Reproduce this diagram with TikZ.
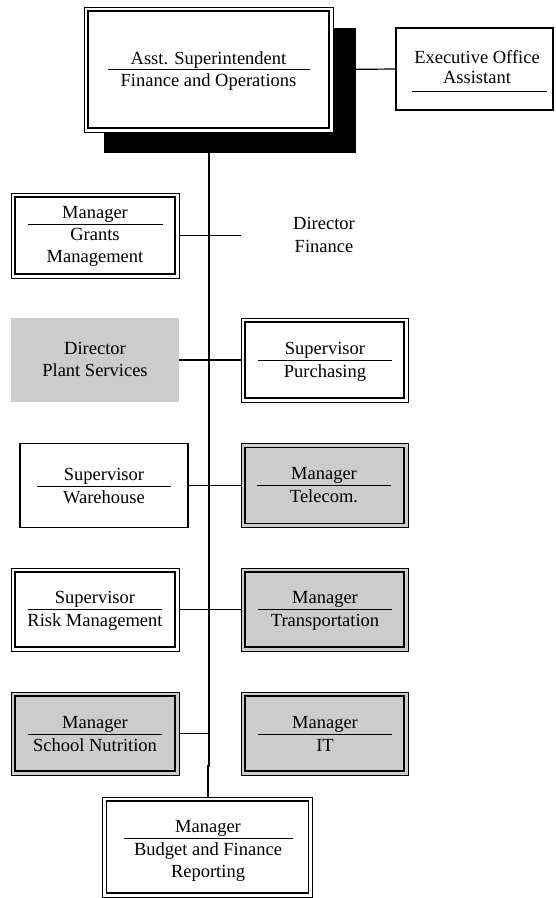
\documentclass[tikz,border=0pt]{standalone}
\usepackage{fontspec}
\setmainfont{Liberation Serif}
\definecolor{boxgray}{RGB}{204,204,204}
\begin{document}
\begin{tikzpicture}[x=1pt,y=-1pt,
  box/.style={rectangle, inner sep=0pt, outer sep=0pt},
  plainbox/.style={box, draw, line width=1.1pt, fill=white},
  dblbox/.style={box, draw, line width=0.8pt, fill=white},
  graydbl/.style={dblbox, fill=boxgray},
  graybox/.style={box, fill=boxgray},
  ghostbox/.style={box},
  innerframe/.style={line width=1.5pt},
  txt/.style={anchor=base, inner sep=0pt, font=\fontsize{18.5}{22}\selectfont},
  titlerule/.style={line width=1pt},
  spine/.style={line width=2pt},
  link/.style={line width=1.2pt}
]
\useasboundingbox (0,0) rectangle (555,898);

% drop shadow behind the head box
\fill[black] (104,28) rectangle (356,153);

% boxes
\node[dblbox, minimum width=249, minimum height=125] (chief) at (208.5,69.5) {};
\node[plainbox, minimum width=157, minimum height=82] (exec) at (474.5,69) {};
\node[dblbox, minimum width=168, minimum height=85] (grants) at (95,235.5) {};
\node[ghostbox, minimum width=167, minimum height=85] (dirfin) at (324.5,235.5) {};
\node[graybox, minimum width=168, minimum height=84] (plant) at (95,360) {};
\node[dblbox, minimum width=167, minimum height=84] (purch) at (324.5,360) {};
\node[plainbox, minimum width=168, minimum height=84] (ware) at (104,485.5) {};
\node[graydbl, minimum width=167, minimum height=84] (tele) at (324.5,485.5) {};
\node[dblbox, minimum width=168, minimum height=83] (risk) at (95,609.5) {};
\node[graydbl, minimum width=167, minimum height=83] (transp) at (324.5,609.5) {};
\node[graydbl, minimum width=168, minimum height=83] (nutri) at (95,733.5) {};
\node[graydbl, minimum width=167, minimum height=83] (it) at (324.5,733.5) {};
\node[dblbox, minimum width=210, minimum height=100] (budget) at (207.5,847) {};

% inner line of the double frames
\foreach \n in {chief,grants,purch,tele,risk,transp,nutri,it,budget}
  \draw[innerframe] ([shift={(4pt,-4pt)}]\n.north west) rectangle ([shift={(-4pt,4pt)}]\n.south east);

% connectors
\draw[spine] (chief.south) -- ++(0,634) coordinate (jog) -| (budget.north);
\draw[link] (chief.east) -- (exec.west);
\draw[link] (grants.east) -- (dirfin.west);
\draw[link] (plant.east) -- (purch.west);
\draw[link] (ware.east) -- (tele.west);
\draw[link] (risk.east) -- (transp.west);
\draw[link] (nutri.east) -- (nutri.east -| chief.south);

% titles and rules
\node[txt] (chief-a) at (208.5,64) {Asst. Superintendent};
\draw[titlerule] (108,69) -- (310,69);
\node[txt] (chief-b) at (208.5,86) {Finance and Operations};

\node[txt] (exec-a) at (477,63) {Executive Office};
\node[txt] (exec-b) at (477,83) {Assistant};
\draw[titlerule] (412,91) -- (547,91);

\node[txt] (grants-a) at (95,218) {Manager};
\draw[titlerule] (28,224) -- (163,224);
\node[txt] (grants-b) at (95,240) {Grants};
\node[txt] (grants-c) at (95,262) {Management};

\node[txt] (dirfin-a) at (324,229) {Director};
\node[txt] (dirfin-b) at (324,252) {Finance};

\node[txt] (plant-a) at (95,354) {Director};
\node[txt] (plant-b) at (95,376) {Plant Services};

\node[txt] (purch-a) at (325,354) {Supervisor};
\draw[titlerule] (258,360) -- (392,360);
\node[txt] (purch-b) at (325,377) {Purchasing};

\node[txt] (ware-a) at (104,480) {Supervisor};
\draw[titlerule] (37,486) -- (171,486);
\node[txt] (ware-b) at (104,503) {Warehouse};

\node[txt] (tele-a) at (324,479) {Manager};
\draw[titlerule] (257,485) -- (391,485);
\node[txt] (tele-b) at (324,502) {Telecom.};

\node[txt] (risk-a) at (95,603) {Supervisor};
\draw[titlerule] (28,609) -- (162,609);
\node[txt] (risk-b) at (95,626) {Risk Management};

\node[txt] (transp-a) at (325,603) {Manager};
\draw[titlerule] (258,609) -- (392,609);
\node[txt] (transp-b) at (325,626) {Transportation};

\node[txt] (nutri-a) at (95,728) {Manager};
\draw[titlerule] (28,734) -- (162,734);
\node[txt] (nutri-b) at (95,751) {School Nutrition};

\node[txt] (it-a) at (325,728) {Manager};
\draw[titlerule] (258,734) -- (392,734);
\node[txt] (it-b) at (325,751) {IT};

\node[txt] (budget-a) at (208,832) {Manager};
\draw[titlerule] (124,838) -- (293,838);
\node[txt] (budget-b) at (208,855) {Budget and Finance};
\node[txt] (budget-c) at (208,877) {Reporting};
\end{tikzpicture}
\end{document}
